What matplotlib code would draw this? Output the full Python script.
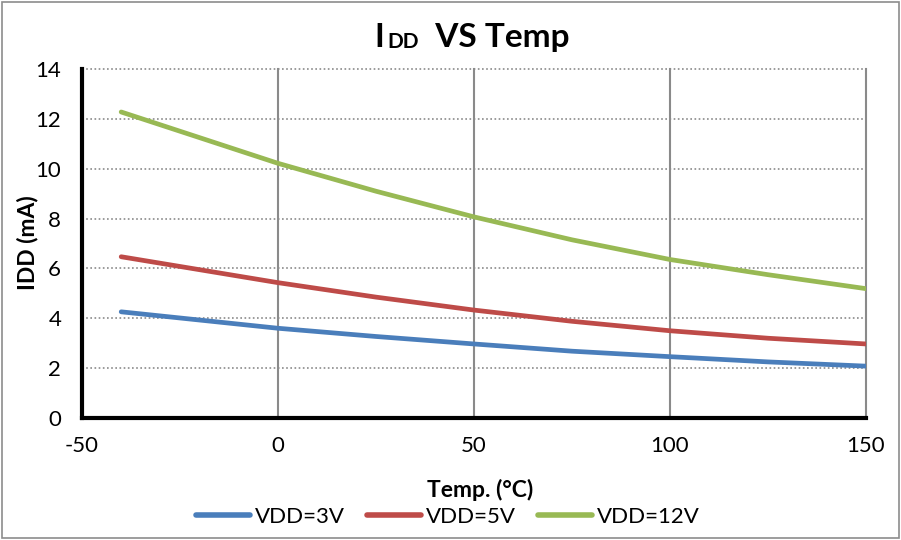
import matplotlib
matplotlib.use('Agg')
import matplotlib.pyplot as plt
from matplotlib.patches import Rectangle

# 数据
temps = [-40, 0, 25, 50, 75, 100, 125, 150]
idd_3v = [4.26, 3.60, 3.27, 2.97, 2.68, 2.46, 2.25, 2.08]
idd_5v = [6.47, 5.43, 4.85, 4.33, 3.88, 3.50, 3.20, 2.97]
idd_12v = [12.28, 10.22, 9.10, 8.07, 7.15, 6.36, 5.75, 5.19]

series = [("VDD=3V", idd_3v, "#4A7EBB"),
          ("VDD=5V", idd_5v, "#BE4B48"),
          ("VDD=12V", idd_12v, "#98B954")]

x_ticks = [-50, 0, 50, 100, 150]
y_ticks = [0, 2, 4, 6, 8, 10, 12, 14]


def main():
    plt.rcParams['font.family'] = ['Lato', 'DejaVu Sans']
    plt.rcParams['axes.unicode_minus'] = False

    fig = plt.figure(figsize=(9.01, 5.40), dpi=100)
    ax = fig.add_axes([0.091, 0.226, 0.870, 0.646])

    # 外框
    fig.patches.append(Rectangle((0.002, 0.003), 0.996, 0.994, transform=fig.transFigure,
                                 fill=False, edgecolor='#8c8c8c', linewidth=1.2))

    for label, vals, color in series:
        ax.plot(temps, vals, color=color, linewidth=3.4, label=label,
                solid_capstyle='round', zorder=3)

    ax.set_xlim(-50, 150)
    ax.set_ylim(0, 14)
    ax.set_xticks(x_ticks)
    ax.set_yticks(y_ticks)
    ax.tick_params(axis='y', labelsize=16, length=0, pad=15)
    ax.tick_params(axis='x', labelsize=16, length=0, pad=13)

    # 网格
    for xv in x_ticks[1:]:
        ax.axvline(xv, color='#8a8a8a', linewidth=1.5, zorder=1, clip_on=False)
    for yv in y_ticks[1:]:
        ax.axhline(yv, color='#8a8a8a', linewidth=1.2, linestyle=(0, (1, 1.5)), zorder=1,
                   clip_on=False)

    for s in ['top', 'right']:
        ax.spines[s].set_visible(False)
    for s in ['left', 'bottom']:
        ax.spines[s].set_linewidth(3)
        ax.spines[s].set_color('black')
        ax.spines[s].set_zorder(4)

    # 坐标轴标题
    fig.text(480 / 901, 1 - 490 / 540, "Temp. (°C)", fontsize=16.5, fontweight='bold',
             ha='center', va='center')
    fig.text(28 / 901, 1 - 243 / 540, "IDD (mA)", fontsize=16.5, fontweight='bold',
             ha='center', va='center', rotation=90)

    # 标题
    t1 = fig.text(0.416, 0.913, "I", fontsize=24, fontweight='bold', ha='left', va='baseline')
    ann = ax.annotate("DD", xy=(1, 0), xycoords=t1, xytext=(2, 0), textcoords='offset points',
                      fontsize=15, fontweight='bold', va='bottom', ha='left')
    ax.annotate("  VS Temp", xy=(1, 0), xycoords=ann, fontsize=24, fontweight='bold',
                va='bottom', ha='left')

    leg = fig.legend(loc='center', bbox_to_anchor=(0.497, 1 - 517 / 540), ncol=3, frameon=False,
                     fontsize=16, handlelength=2.45, handletextpad=0.2, columnspacing=1.0,
                     borderpad=0)
    for line in leg.get_lines():
        line.set_linewidth(4)

    fig.savefig('out.png', dpi=100)


if __name__ == '__main__':
    main()
